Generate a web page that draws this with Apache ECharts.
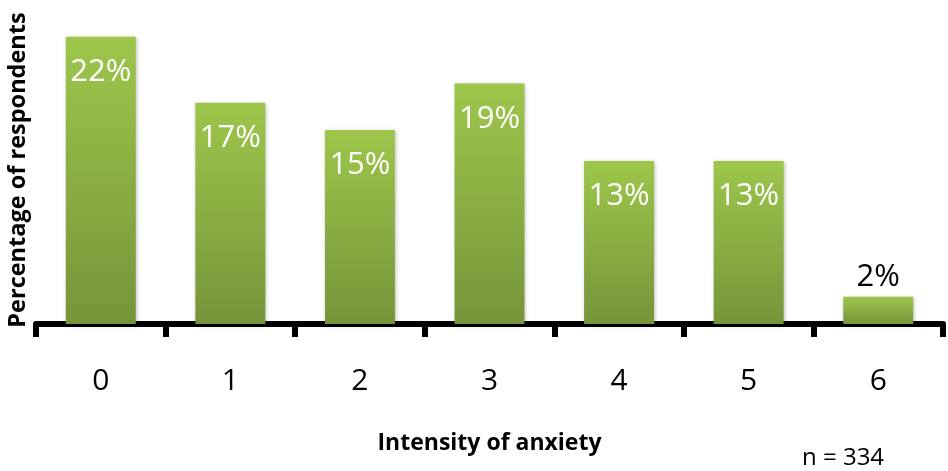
<!DOCTYPE html>
<html>
<head>
<meta charset="utf-8">
<script src="https://cdn.jsdelivr.net/npm/echarts@6/dist/echarts.min.js"></script>
<style>html,body{margin:0;padding:0;background:#fff;}#c{width:948px;height:471px;}</style>
</head>
<body>
<div id="c"></div>
<script>
const categories = ['0', '1', '2', '3', '4', '5', '6'];
// percentages of n = 334 respondents (74, 57, 50, 62, 42, 42, 7)
const percentValues = [22.16, 17.07, 14.97, 18.56, 12.57, 12.57, 2.10];
const xAxisTitle = 'Intensity of anxiety';
const yAxisTitle = 'Percentage of respondents';
const noteText = 'n = 334';

const FONT = '"Open Sans", "Liberation Sans", sans-serif';
const chart = echarts.init(document.getElementById('c'));
const barColor = new echarts.graphic.LinearGradient(0, 0, 0, 1, [
  { offset: 0, color: '#9dc64b' },
  { offset: 1, color: '#76953a' }
]);
const seriesData = percentValues.map((v, i) => {
  const d = { value: v };
  if (v < 5) {
    d.label = { position: 'top', color: '#000', distance: 4 };
  }
  return d;
});
chart.setOption({
  animation: false,
  backgroundColor: '#fff',
  grid: { left: 36, right: 5, top: 0, bottom: 147, containLabel: false, outerBoundsMode: 'none' },
  xAxis: {
    type: 'category',
    data: categories,
    boundaryGap: true,
    axisLine: { lineStyle: { color: '#000', width: 6 } },
    axisTick: { show: true, length: 13, lineStyle: { color: '#000', width: 6 } },
    axisLabel: { fontSize: 30, color: '#000', margin: 42, fontFamily: FONT },
    name: xAxisTitle,
    nameLocation: 'middle',
    nameGap: 108,
    nameTextStyle: { fontSize: 23, fontWeight: 'bold', color: '#000', fontFamily: FONT }
  },
  yAxis: {
    type: 'value',
    min: 0,
    max: 25,
    axisLine: { show: false },
    axisTick: { show: false },
    axisLabel: { show: false },
    splitLine: { show: false }
  },
  graphic: [{
    type: 'text',
    x: 18,
    y: 170,
    rotation: Math.PI / 2,
    style: {
      text: yAxisTitle, fontSize: 23.5, fontWeight: 'bold', fill: '#000', fontFamily: FONT,
      align: 'center', verticalAlign: 'middle'
    }
  }, {
    type: 'text',
    left: 802,
    top: 446,
    style: { text: noteText, fontSize: 24, fill: '#000', fontFamily: FONT }
  }],
  series: [{
    type: 'bar',
    data: seriesData,
    barWidth: '54%',
    itemStyle: {
      color: barColor,
      shadowBlur: 4,
      shadowColor: 'rgba(0,0,0,0.25)',
      shadowOffsetX: 1,
      shadowOffsetY: 1
    },
    label: {
      show: true,
      position: 'insideTop',
      distance: 20,
      color: '#fff',
      fontSize: 31,
      fontFamily: FONT,
      formatter: p => Math.round(p.value) + '%'
    }
  }]
});
</script>
</body>
</html>
